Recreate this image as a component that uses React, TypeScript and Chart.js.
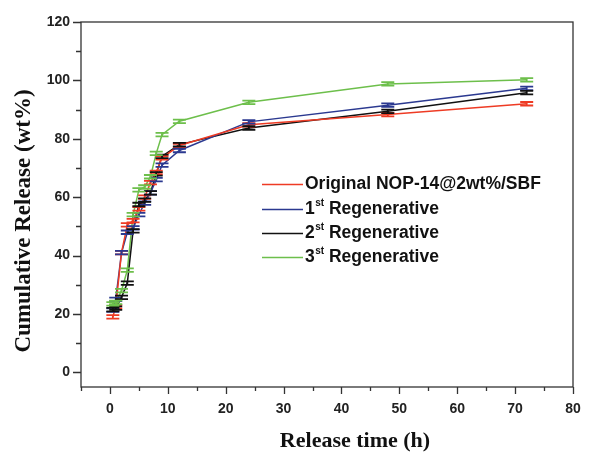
import React, { useEffect, useRef } from "react";
import { Chart, registerables } from "chart.js";

Chart.register(...registerables);

// ---- data ----
const releaseTimes = [0.5, 1, 2, 3, 4, 5, 6, 7, 8, 9, 12, 24, 48, 72];
const originalValues = [19, 22.5, 41, 50.5, 52, 56, 60, 65, 68.5, 73.5, 77.7, 84.8, 88.3, 92];
const regen1Values = [21.3, 25, 41, 48, 49.5, 54, 58, 61.5, 66, 71, 76, 85.8, 91.5, 97.3];
const regen2Values = [21.5, 22, 25.7, 30.6, 48.5, 57.5, 59, 61.5, 68, 74, 78, 83.7, 89.4, 95.8];
const regen3Values = [23.5, 24, 28, 35, 54, 62.5, 63.5, 67, 75, 81.4, 86, 92.5, 98.8, 100.2];
const errorSize = 0.6;

const xMajorTicks = [0, 10, 20, 30, 40, 50, 60, 70, 80];
const xMinorTicks = [-5, 5, 15, 25, 35, 45, 55, 65, 75];
const yMajorTicks = [0, 20, 40, 60, 80, 100, 120];
const yMinorTicks = [10, 30, 50, 70, 90, 110];

const legendMain = ["Original NOP-14@2wt%/SBF", "1", "2", "3"];
const legendSup = ["", "st", "st", "st"];
const legendRest = ["", " Regenerative", " Regenerative", " Regenerative"];

const xTitle = "Release time (h)";
const yTitle = "Cumulative Release (wt%)";

const colors = ["#ee3b24", "#2b3990", "#111111", "#6dbf4b"];

const toPoints = (vals: number[]) => vals.map((v, i) => ({ x: releaseTimes[i], y: v }));

const SANS = "'Liberation Sans', Arial, sans-serif";
const SERIF = "'Liberation Serif', 'Times New Roman', serif";

const decorPlugin = {
  id: "decor",
  afterDatasetsDraw(chart: any) {
    const ctx = chart.ctx;
    const xs = chart.scales.x;
    const ys = chart.scales.y;
    const capHalf = 6.5;
    chart.data.datasets.forEach((ds: any) => {
      ctx.save();
      ctx.strokeStyle = ds.borderColor;
      ctx.lineWidth = 1.8;
      ds.data.forEach((p: any) => {
        const px = xs.getPixelForValue(p.x);
        const t = ys.getPixelForValue(p.y + errorSize);
        const b = ys.getPixelForValue(p.y - errorSize);
        ctx.beginPath();
        ctx.moveTo(px, t);
        ctx.lineTo(px, b);
        ctx.moveTo(px - capHalf, t);
        ctx.lineTo(px + capHalf, t);
        ctx.moveTo(px - capHalf, b);
        ctx.lineTo(px + capHalf, b);
        ctx.stroke();
      });
      ctx.restore();
    });
  },
  afterDraw(chart: any) {
    const ctx = chart.ctx;
    const a = chart.chartArea;
    const xs = chart.scales.x;
    const ys = chart.scales.y;
    ctx.save();
    // frame
    ctx.strokeStyle = "#333";
    ctx.lineWidth = 1.3;
    ctx.strokeRect(a.left, a.top, a.right - a.left, a.bottom - a.top);
    // ticks
    ctx.beginPath();
    xMajorTicks.forEach((v) => {
      const p = Math.round(xs.getPixelForValue(v)) + 0.5;
      ctx.moveTo(p, a.bottom);
      ctx.lineTo(p, a.bottom + 7);
    });
    xMinorTicks.forEach((v) => {
      const p = Math.round(xs.getPixelForValue(v)) + 0.5;
      ctx.moveTo(p, a.bottom);
      ctx.lineTo(p, a.bottom + 4);
    });
    yMajorTicks.forEach((v) => {
      const p = Math.round(ys.getPixelForValue(v)) + 0.5;
      ctx.moveTo(a.left, p);
      ctx.lineTo(a.left - 8, p);
    });
    yMinorTicks.forEach((v) => {
      const p = Math.round(ys.getPixelForValue(v)) + 0.5;
      ctx.moveTo(a.left, p);
      ctx.lineTo(a.left - 5, p);
    });
    ctx.stroke();

    // titles
    ctx.fillStyle = "#111";
    ctx.font = `bold 22px ${SERIF}`;
    ctx.textAlign = "center";
    ctx.textBaseline = "middle";
    ctx.fillText(xTitle, 355, 441);
    ctx.save();
    ctx.translate(24, 221);
    ctx.rotate(-Math.PI / 2);
    ctx.font = `bold 23px ${SERIF}`;
    ctx.fillText(yTitle, 0, 0);
    ctx.restore();

    // legend
    const rowY = [184, 209, 233, 257];
    ctx.textAlign = "left";
    ctx.textBaseline = "middle";
    legendMain.forEach((m, i) => {
      const y = rowY[i];
      ctx.strokeStyle = colors[i];
      ctx.lineWidth = 1.5;
      ctx.beginPath();
      ctx.moveTo(262, y + 0.5);
      ctx.lineTo(303, y + 0.5);
      ctx.stroke();
      ctx.fillStyle = "#111";
      let x = 305;
      ctx.font = `bold 17.5px ${SANS}`;
      ctx.fillText(m, x, y);
      x += ctx.measureText(m).width;
      if (legendSup[i]) {
        ctx.font = `bold 10px ${SANS}`;
        ctx.fillText(legendSup[i], x + 0.5, y - 6);
        x += ctx.measureText(legendSup[i]).width + 0.5;
      }
      if (legendRest[i]) {
        ctx.font = `bold 17.5px ${SANS}`;
        ctx.fillText(legendRest[i], x, y);
      }
    });
    ctx.restore();
  },
};

export default function App() {
  const ref = useRef<HTMLCanvasElement | null>(null);
  useEffect(() => {
    if (!ref.current) return;
    const tickFont = { family: SANS, size: 14, weight: "bold" as const };
    const series = [originalValues, regen1Values, regen2Values, regen3Values];
    const chart = new Chart(ref.current, {
      type: "line",
      data: {
        datasets: series.map((vals, i) => ({
          label: legendMain[i] + legendSup[i] + legendRest[i],
          data: toPoints(vals),
          borderColor: colors[i],
          backgroundColor: colors[i],
          borderWidth: 1.5,
          pointRadius: 0,
          tension: 0,
          fill: false,
        })),
      },
      options: {
        animation: false,
        responsive: false,
        layout: { padding: { top: 22, right: 16, left: 0, bottom: 0 } },
        plugins: { legend: { display: false }, tooltip: { enabled: false } },
        scales: {
          x: {
            type: "linear",
            min: -5,
            max: 80,
            grid: { display: false, drawTicks: false },
            border: { display: false },
            ticks: { padding: 14, font: tickFont, color: "#222" },
            afterBuildTicks: (s: any) => {
              s.ticks = xMajorTicks.map((v) => ({ value: v }));
            },
            afterFit: (s: any) => {
              s.height = 72;
              s.paddingLeft = 0;
              s.paddingRight = 0;
            },
          },
          y: {
            type: "linear",
            min: -5,
            max: 120,
            grid: { display: false, drawTicks: false },
            border: { display: false },
            ticks: { padding: 11, font: tickFont, color: "#222" },
            afterBuildTicks: (s: any) => {
              s.ticks = yMajorTicks.map((v) => ({ value: v }));
            },
            afterFit: (s: any) => {
              s.width = 81;
              s.paddingTop = 0;
              s.paddingBottom = 0;
            },
          },
        },
      },
      plugins: [decorPlugin],
    });
    return () => chart.destroy();
  }, []);
  return (
    <div style={{ position: "fixed", left: 0, top: 0, width: 589, height: 459, background: "#fff" }}>
      <canvas ref={ref} width={589} height={459} />
    </div>
  );
}
